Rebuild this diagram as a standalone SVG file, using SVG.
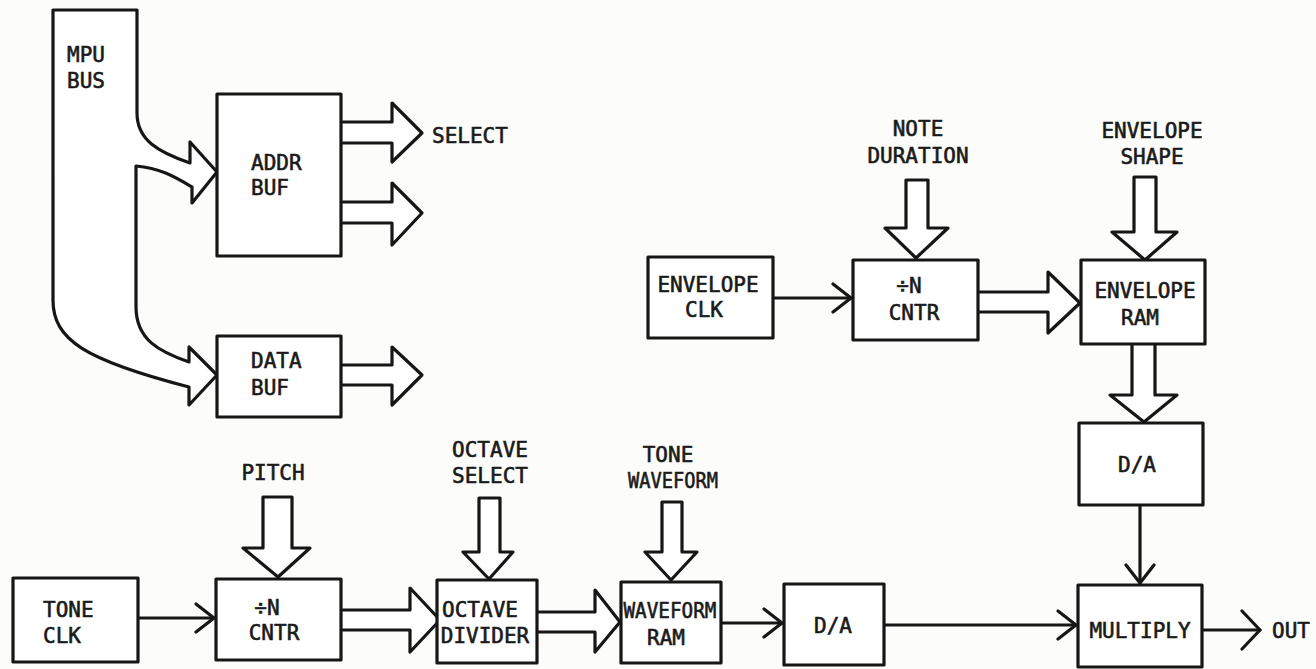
<svg xmlns="http://www.w3.org/2000/svg" width="1316" height="669" viewBox="0 0 1316 669">
<defs>
<style>
.box{fill:#fff;stroke:#161616;stroke-width:3.2;stroke-linejoin:round}
.blk{fill:#fff;stroke:#161616;stroke-width:3.2;stroke-linejoin:round;stroke-linecap:round}
.ln{fill:none;stroke:#161616;stroke-width:3.2;stroke-linecap:round}
.t{font-family:"DejaVu Sans Mono","Liberation Mono",monospace;font-size:21px;fill:#1a1a1a;stroke:#1a1a1a;stroke-width:0.6}
.c{text-anchor:middle}
</style>
<marker id="chev" viewBox="0 0 22 32" markerWidth="22" markerHeight="32" refX="20" refY="16" orient="auto" markerUnits="userSpaceOnUse">
<path d="M2,2 L20,16 L2,30" fill="none" stroke="#161616" stroke-width="3.2" stroke-linecap="round" stroke-linejoin="round"/>
</marker>
<marker id="chevL" viewBox="0 0 22 44" markerWidth="22" markerHeight="44" refX="20" refY="22" orient="auto" markerUnits="userSpaceOnUse">
<path d="M2,3 L20,22 L2,41" fill="none" stroke="#161616" stroke-width="3.2" stroke-linecap="round" stroke-linejoin="round"/>
</marker>
</defs>
<rect x="0" y="0" width="1316" height="669" fill="#fcfcfb"/>

<g id="connectors">
<line class="ln" x1="138" y1="618" x2="214" y2="618" marker-end="url(#chev)"/>
<line class="ln" x1="721" y1="623" x2="782" y2="623" marker-end="url(#chev)"/>
<line class="ln" x1="884" y1="625" x2="1076" y2="625" marker-end="url(#chev)"/>
<line class="ln" x1="1202" y1="630" x2="1260" y2="630" marker-end="url(#chevL)"/>
<line class="ln" x1="1140" y1="505" x2="1140" y2="583" marker-end="url(#chev)"/>
<line class="ln" x1="773" y1="298" x2="851" y2="298" marker-end="url(#chev)"/>
<path class="blk" d="M341,610 L410,610 L410,588 L440,620 L410,652 L410,630 L341,630"/>
<path class="blk" d="M537,612 L595,612 L595,590 L620,622 L595,652 L595,632 L537,632"/>
<path class="blk" d="M978,292 L1048,292 L1048,272 L1080,303 L1048,333 L1048,312 L978,312"/>
<path class="blk" d="M341,122 L392,122 L392,103 L422,133 L392,162 L392,143 L341,143"/>
<path class="blk" d="M341,202 L392,202 L392,183 L422,213 L392,245 L392,223 L341,223"/>
<path class="blk" d="M341,365 L392,365 L392,347 L422,375 L392,405 L392,385 L341,385"/>
<path class="blk" d="M263,497 L292,497 L292,548 L310,548 L278,577 L243,548 L263,548 Z"/>
<path class="blk" d="M479,498 L500,498 L500,552 L513,552 L489,579 L463,552 L479,552 Z"/>
<path class="blk" d="M662,502 L682,502 L682,552 L697,552 L671,580 L645,552 L662,552 Z"/>
<path class="blk" d="M906,180 L928,180 L928,228 L948,228 L916,258 L885,228 L906,228 Z"/>
<path class="blk" d="M1134,177 L1156,177 L1156,232 L1177,232 L1145,260 L1112,232 L1134,232 Z"/>
<path class="blk" d="M1132,344 L1132,395 L1110,395 L1144,422 L1177,395 L1155,395 L1155,344"/>
</g>

<g id="mpu-bus">
<path class="blk" d="M137,10 L53,10 L53,300 C53,340 85,360 189,387 L189,405 L217,375 L189,347 L189,362 C160,352 136,340 136,307 L136,166 C160,168 175,177 192,187 L192,203 L217,172 L190,142 L190,163 C158,152 137,140 137,113 Z"/>
<text class="t" x="67" y="62">MPU</text>
<text class="t" x="67" y="88">BUS</text>
</g>

<g id="addr-buf">
<rect class="box" x="217" y="94" width="124" height="162"/>
<text class="t" x="251" y="170">ADDR</text>
<text class="t" x="251" y="195">BUF</text>
</g>
<text id="select-label" class="t" x="432" y="143">SELECT</text>

<g id="data-buf">
<rect class="box" x="217" y="336" width="124" height="81"/>
<text class="t" x="251" y="368">DATA</text>
<text class="t" x="251" y="395">BUF</text>
</g>

<g id="envelope-clk">
<rect class="box" x="648" y="257" width="125" height="81"/>
<text class="t c" x="708" y="292">ENVELOPE</text>
<text class="t c" x="704" y="317">CLK</text>
</g>

<g id="note-duration">
<text class="t c" x="918" y="136">NOTE</text>
<text class="t c" x="918" y="163">DURATION</text>
</g>

<g id="env-cntr">
<rect class="box" x="853" y="260" width="125" height="80"/>
<text class="t c" x="909" y="293">÷N</text>
<text class="t c" x="914" y="320">CNTR</text>
</g>

<g id="envelope-shape">
<text class="t c" x="1152" y="138">ENVELOPE</text>
<text class="t c" x="1152" y="164">SHAPE</text>
</g>

<g id="envelope-ram">
<rect class="box" x="1081" y="260" width="124" height="84"/>
<text class="t c" x="1145" y="298">ENVELOPE</text>
<text class="t c" x="1140" y="325">RAM</text>
</g>

<g id="env-da">
<rect class="box" x="1079" y="423" width="124" height="82"/>
<text class="t c" x="1137" y="472">D/A</text>
</g>

<g id="multiply">
<rect class="box" x="1078" y="585" width="124" height="82"/>
<text class="t c" x="1140" y="638">MULTIPLY</text>
</g>
<text id="out-label" class="t" x="1272" y="638">OUT</text>

<g id="tone-clk">
<rect class="box" x="13" y="578" width="125" height="84"/>
<text class="t" x="43" y="617">TONE</text>
<text class="t" x="43" y="643">CLK</text>
</g>

<g id="pitch">
<text class="t c" x="273" y="480">PITCH</text>
</g>

<g id="tone-cntr">
<rect class="box" x="216" y="579" width="125" height="81"/>
<text class="t c" x="267" y="615">÷N</text>
<text class="t c" x="274" y="640">CNTR</text>
</g>

<g id="octave-select">
<text class="t c" x="490" y="457">OCTAVE</text>
<text class="t c" x="490" y="483">SELECT</text>
</g>

<g id="octave-divider">
<rect class="box" x="437" y="580" width="100" height="83"/>
<text class="t c" x="480" y="617">OCTAVE</text>
<text class="t c" x="485" y="643">DIVIDER</text>
</g>

<g id="tone-waveform">
<text class="t c" x="668" y="462">TONE</text>
<text class="t c" x="673" y="488" textLength="90" lengthAdjust="spacingAndGlyphs">WAVEFORM</text>
</g>

<g id="waveform-ram">
<rect class="box" x="621" y="582" width="100" height="81"/>
<text class="t c" x="670" y="618" textLength="93" lengthAdjust="spacingAndGlyphs">WAVEFORM</text>
<text class="t c" x="666" y="645">RAM</text>
</g>

<g id="tone-da">
<rect class="box" x="784" y="584" width="100" height="81"/>
<text class="t c" x="833" y="633">D/A</text>
</g>
</svg>
